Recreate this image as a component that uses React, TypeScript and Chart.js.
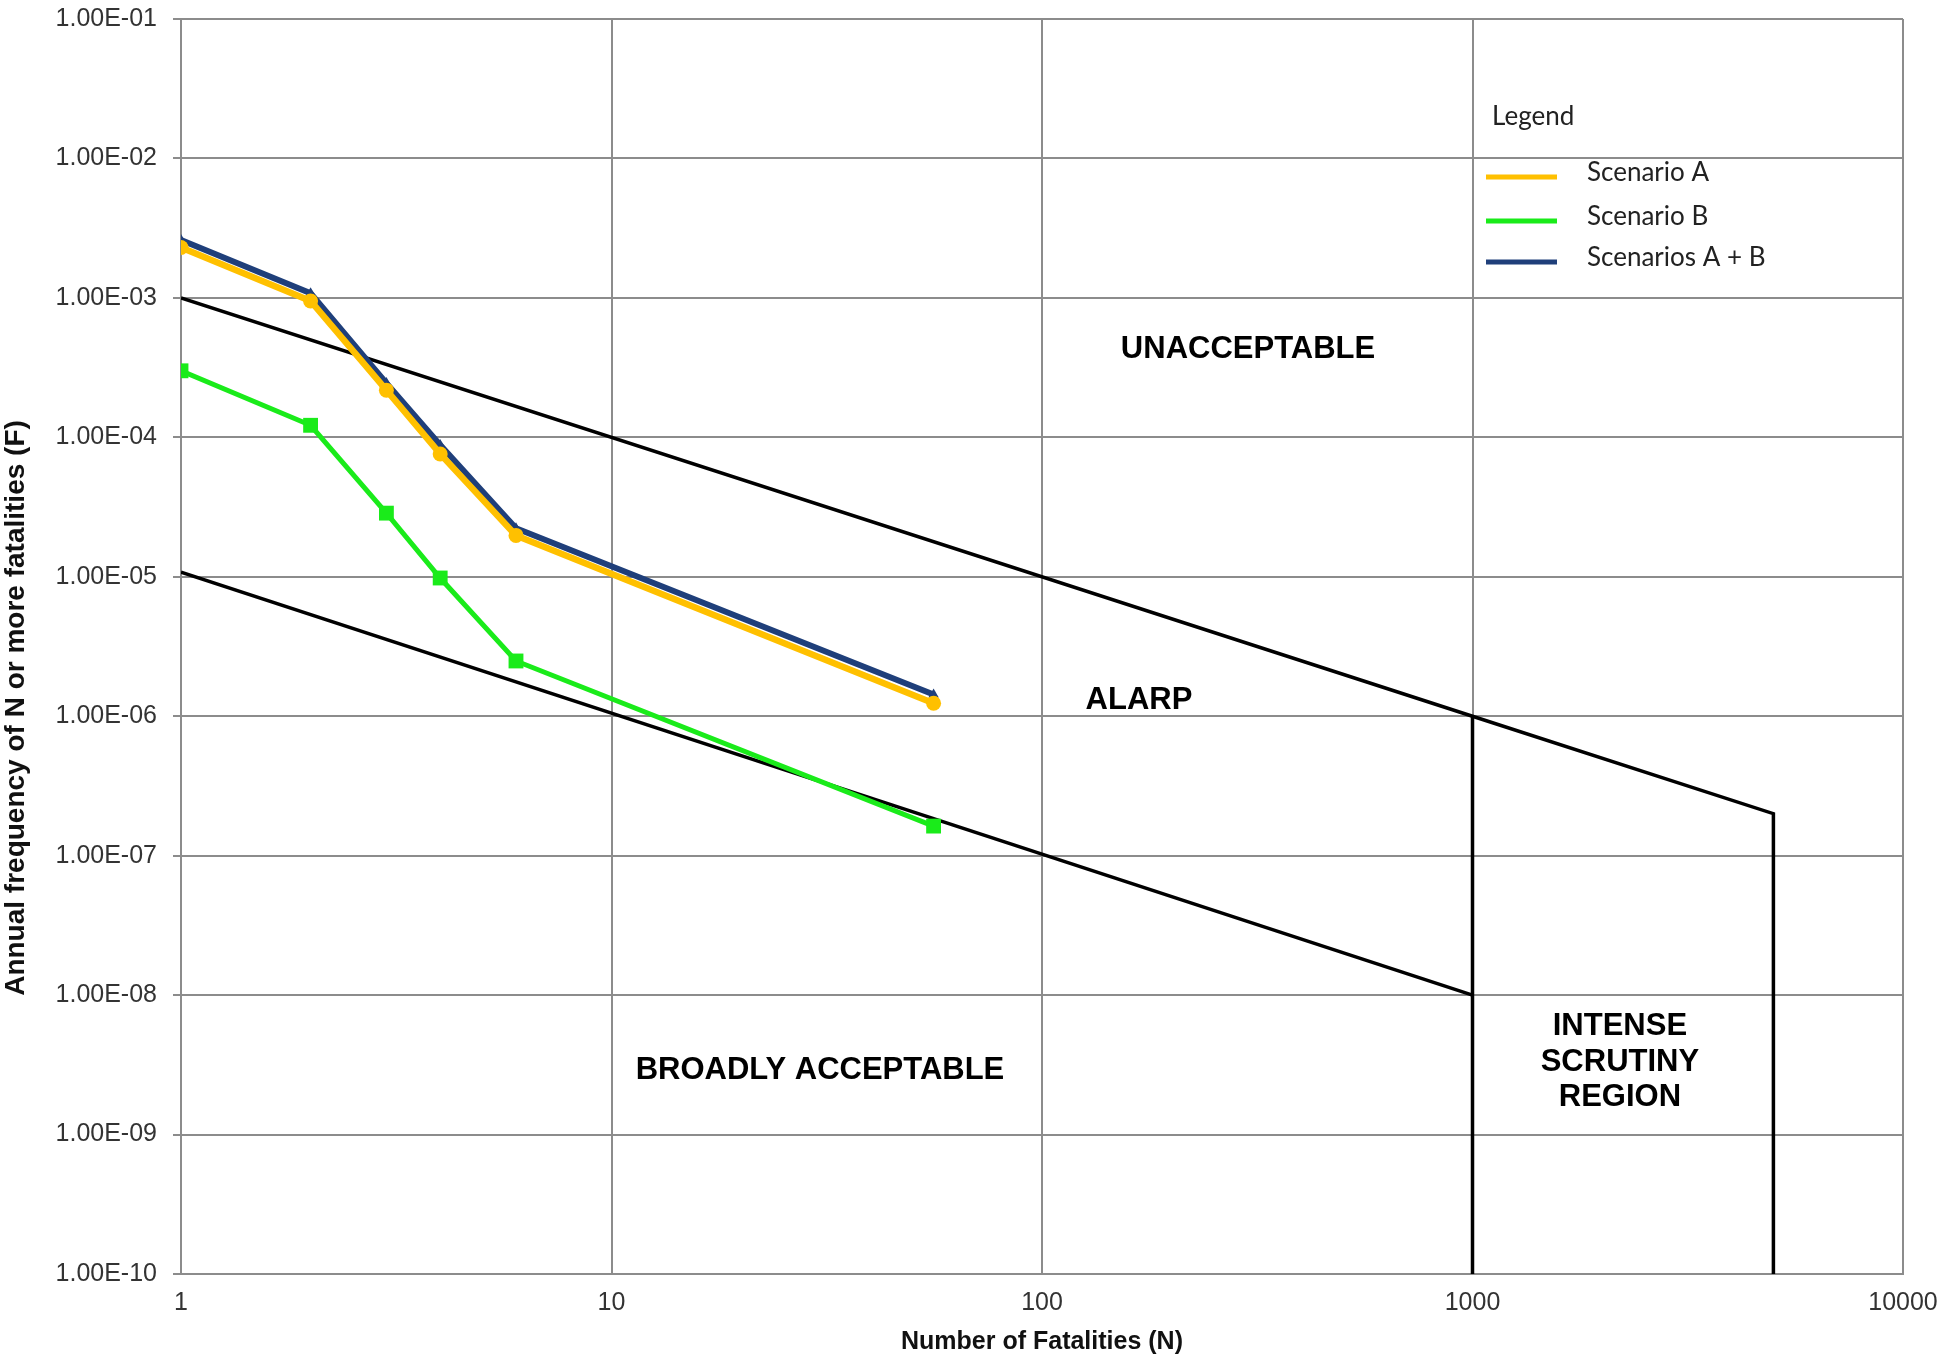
import React, { useEffect, useRef } from 'react';
import { Chart, registerables } from 'chart.js';

Chart.register(...registerables);

// ---- Data ----
const N_VALUES = [1, 2, 3, 4, 6, 56];
const SCENARIO_A = [2.3e-3, 9.5e-4, 2.18e-4, 7.6e-5, 1.98e-5, 1.24e-6];
const SCENARIO_B = [3.0e-4, 1.22e-4, 2.86e-5, 9.8e-6, 2.49e-6, 1.63e-7];
const SCENARIO_AB = [2.6e-3, 1.08e-3, 2.45e-4, 8.8e-5, 2.23e-5, 1.43e-6];

const UPPER_N = [1, 1000, 5000, 5000];
const UPPER_F = [1e-3, 1e-6, 2e-7, 1e-10];
const LOWER_N = [1, 1000];
const LOWER_F = [1.08e-5, 1e-8];
const DIVIDER_N = [1000, 1000];
const DIVIDER_F = [1e-6, 1e-10];

const X_TICKS = [1, 10, 100, 1000, 10000];
const Y_EXPONENTS = [-10, -9, -8, -7, -6, -5, -4, -3, -2, -1];

const SERIES_LABELS = ['Scenario A', 'Scenario B', 'Scenarios A + B'];
const SERIES_COLORS = ['#FFC000', '#1AEB1A', '#1F3F7A'];

const REGION_LABELS = [['UNACCEPTABLE'], ['ALARP'], ['BROADLY ACCEPTABLE'], ['INTENSE', 'SCRUTINY', 'REGION']];
const REGION_N = [301, 168, 30.5, 2200];
const REGION_F = [4.3e-4, 1.3e-6, 2.9e-9, 3.3e-9];

const X_TITLE = 'Number of Fatalities (N)';
const Y_TITLE = 'Annual frequency of N or more fatalities (F)';
const LEGEND_TITLE = 'Legend';

const FONT = '"Liberation Sans", Arial, sans-serif';
const GRID = '#8c8c8c';

const pts = (xs: number[], ys: number[]) => xs.map((x, i) => ({ x, y: ys[i] }));

const fmtExp = (v: number) => {
  const e = Math.round(Math.log10(v));
  const sign = e < 0 ? '-' : '+';
  return `1.00E${sign}${String(Math.abs(e)).padStart(2, '0')}`;
};

const overlayPlugin = {
  id: 'overlay',
  afterDatasetsDraw(chart: any) {
    const ctx = chart.ctx;
    const xs = chart.scales.x;
    const ys = chart.scales.y;
    ctx.save();
    // Region labels
    ctx.fillStyle = '#000';
    ctx.font = `bold 31px ${FONT}`;
    ctx.textAlign = 'center';
    ctx.textBaseline = 'middle';
    REGION_LABELS.forEach((lines, i) => {
      const cx = xs.getPixelForValue(REGION_N[i]);
      const cy = ys.getPixelForValue(REGION_F[i]);
      const lh = 35.5;
      lines.forEach((t, j) => {
        ctx.fillText(t, cx, cy + (j - (lines.length - 1) / 2) * lh);
      });
    });
    // Legend
    ctx.fillStyle = '#222';
    ctx.font = `26px Lato, ${FONT}`;
    ctx.textAlign = 'left';
    ctx.fillText(LEGEND_TITLE, 1492, 117);
    const rowsY = [175, 219, 260];
    SERIES_LABELS.forEach((lab, i) => {
      ctx.strokeStyle = SERIES_COLORS[i];
      ctx.lineWidth = 5;
      ctx.beginPath();
      ctx.moveTo(1486, rowsY[i] + 2);
      ctx.lineTo(1557, rowsY[i] + 2);
      ctx.stroke();
      ctx.fillStyle = '#222';
      ctx.fillText(lab, 1587, rowsY[i] - 2);
    });
    ctx.restore();
  },
  afterDraw(chart: any) {
    const ctx = chart.ctx;
    ctx.save();
    ctx.translate(16, 708);
    ctx.rotate(-Math.PI / 2);
    ctx.fillStyle = '#111';
    ctx.font = `bold 28px ${FONT}`;
    ctx.textAlign = 'center';
    ctx.textBaseline = 'middle';
    ctx.fillText(Y_TITLE, 0, 0);
    ctx.restore();
  },
};

export default function App() {
  const ref = useRef<HTMLCanvasElement>(null);
  useEffect(() => {
    const chart = new Chart(ref.current as HTMLCanvasElement, {
      type: 'line',
      data: {
        datasets: [
          {
            label: SERIES_LABELS[0],
            data: pts(N_VALUES, SCENARIO_A),
            borderColor: SERIES_COLORS[0],
            backgroundColor: SERIES_COLORS[0],
            borderWidth: 6.5,
            pointStyle: 'circle',
            pointRadius: 7.5,
            pointBorderWidth: 0,
            order: 0,
          },
          {
            label: SERIES_LABELS[2],
            data: pts(N_VALUES, SCENARIO_AB),
            borderColor: SERIES_COLORS[2],
            backgroundColor: SERIES_COLORS[2],
            borderWidth: 6,
            pointStyle: 'triangle',
            pointRadius: 6,
            pointBorderWidth: 0,
            order: 1,
          },
          {
            label: SERIES_LABELS[1],
            data: pts(N_VALUES, SCENARIO_B),
            borderColor: SERIES_COLORS[1],
            backgroundColor: SERIES_COLORS[1],
            borderWidth: 5,
            pointStyle: 'rect',
            pointRadius: 10.5,
            pointBorderWidth: 0,
            order: 2,
          },
          {
            label: 'upper',
            data: pts(UPPER_N, UPPER_F),
            borderColor: '#000',
            borderWidth: 3.5,
            pointRadius: 0,
            order: 3,
          },
          {
            label: 'lower',
            data: pts(LOWER_N, LOWER_F),
            borderColor: '#000',
            borderWidth: 3.5,
            pointRadius: 0,
            order: 3,
          },
          {
            label: 'divider',
            data: pts(DIVIDER_N, DIVIDER_F),
            borderColor: '#000',
            borderWidth: 3.5,
            pointRadius: 0,
            order: 3,
          },
        ],
      },
      options: {
        animation: false,
        responsive: true,
        maintainAspectRatio: false,
        layout: { padding: { top: 19, right: 43, left: 0, bottom: 0 } },
        plugins: {
          legend: { display: false },
          tooltip: { enabled: false },
        },
        elements: { line: { tension: 0 } },
        scales: {
          x: {
            type: 'logarithmic',
            min: 1,
            max: 10000,
            afterBuildTicks: (s: any) => {
              s.ticks = X_TICKS.map((v) => ({ value: v }));
            },
            afterFit: (s: any) => {
              s.height = 87;
              s.paddingLeft = 0;
              s.paddingRight = 0;
            },
            ticks: {
              autoSkip: false,
              maxRotation: 0,
              padding: 14,
              color: '#333',
              font: { family: FONT, size: 25 },
              callback: (v: any) => String(v),
            },
            grid: { color: GRID, lineWidth: 2, drawTicks: false },
            border: { color: GRID, width: 2 },
            title: {
              display: true,
              text: X_TITLE,
              color: '#111',
              font: { family: FONT, size: 25, weight: 'bold' },
              padding: { top: 0, bottom: 4 },
            },
          },
          y: {
            type: 'logarithmic',
            min: 1e-10,
            max: 1e-1,
            afterBuildTicks: (s: any) => {
              s.ticks = Y_EXPONENTS.map((e) => ({ value: Math.pow(10, e) }));
            },
            afterFit: (s: any) => {
              s.width = 181;
              s.paddingTop = 0;
              s.paddingBottom = 0;
            },
            ticks: {
              autoSkip: false,
              padding: 16,
              color: '#333',
              font: { family: FONT, size: 25 },
              callback: (v: any) => fmtExp(Number(v)),
            },
            grid: { color: GRID, lineWidth: 2, drawTicks: true, tickLength: 8 },
            border: { color: GRID, width: 2 },
          },
        },
      },
      plugins: [overlayPlugin],
    } as any);
    return () => chart.destroy();
  }, []);
  return (
    <div style={{ position: 'absolute', left: 0, top: 0, width: 1946, height: 1361, background: '#fff' }}>
      <canvas ref={ref} />
    </div>
  );
}
